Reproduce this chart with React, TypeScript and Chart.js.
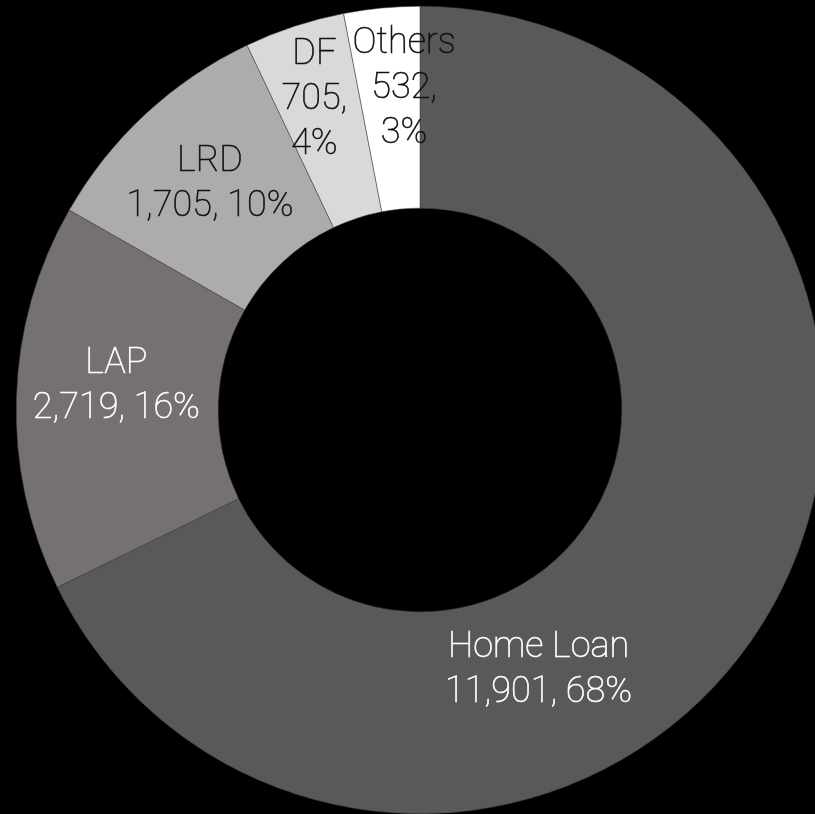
import React, { useEffect, useRef } from "react";
import { Chart, registerables } from "chart.js";

Chart.register(...registerables);

const categories = ["Home Loan", "LAP", "LRD", "DF", "Others"];
const values = [11901, 2719, 1705, 705, 532];
const percents = ["68%", "16%", "10%", "4%", "3%"];
const sliceColors = ["#595959", "#757171", "#AEABAB", "#D9D9D9", "#FFFFFF"];
const labelColors = ["#FFFFFF", "#FFFFFF", "#111111", "#111111", "#111111"];
// label text lines per slice
const labelLines = [
  ["Home Loan", "11,901, 68%"],
  ["LAP", "2,719, 16%"],
  ["LRD", "1,705, 10%"],
  ["DF", "705,", "4%"],
  ["Others", "532,", "3%"],
];
// label placement: angle (deg clockwise from top), distance as fraction of outer radius
const labelAngles = [155.2, 275.1, 317.5, 341.4, 357.2];
const labelDist = [0.70, 0.755, 0.77, 0.82, 0.804];

const FONT_SIZE = 36;
const LINE_H = 45;

const labelPlugin = {
  id: "sliceLabels",
  afterDatasetsDraw(chart: any) {
    const meta = chart.getDatasetMeta(0);
    const arc0 = meta.data[0];
    if (!arc0) return;
    const { x: cx, y: cy, outerRadius } = arc0.getProps(["x", "y", "outerRadius"], true);
    const ctx = chart.ctx;
    ctx.save();
    ctx.font = `100 ${FONT_SIZE}px Roboto, "Open Sans", sans-serif`;
    ctx.textAlign = "center";
    ctx.textBaseline = "alphabetic";
    labelLines.forEach((lines, i) => {
      const a = (labelAngles[i] * Math.PI) / 180;
      const r = labelDist[i] * outerRadius;
      const x = cx + r * Math.sin(a);
      const y = cy - r * Math.cos(a);
      ctx.fillStyle = labelColors[i];
      ctx.strokeStyle = labelColors[i];
      ctx.lineWidth = 0.6;
      const n = lines.length;
      lines.forEach((t, k) => {
        const lc = y + (k - (n - 1) / 2) * LINE_H;
        ctx.fillText(t, x, lc + 12.5);
        ctx.strokeText(t, x, lc + 12.5);
      });
    });
    ctx.restore();
  },
};

export default function App() {
  const ref = useRef<HTMLCanvasElement | null>(null);
  useEffect(() => {
    document.body.style.margin = "0";
    document.body.style.background = "#000";
    const canvas = ref.current!;
    const chart = new Chart(canvas, {
      type: "doughnut",
      data: {
        labels: categories,
        datasets: [
          {
            data: values,
            backgroundColor: sliceColors,
            borderColor: "#3f3f3f",
            borderWidth: 0.5,
            hoverOffset: 0,
          },
        ],
      },
      options: {
        responsive: false,
        animation: false,
        events: [],
        cutout: "50%",
        layout: { padding: { left: 16, right: 16, top: 6, bottom: 0 } },
        plugins: {
          legend: { display: false },
          tooltip: { enabled: false },
        },
      },
      plugins: [labelPlugin],
    });
    return () => chart.destroy();
  }, []);
  return (
    <div style={{ position: "fixed", left: 0, top: 0, width: 815, height: 814, overflow: "hidden", background: "#000" }}>
      <canvas ref={ref} width={840} height={814} style={{ display: "block", width: 840, height: 814 }} />
    </div>
  );
}
